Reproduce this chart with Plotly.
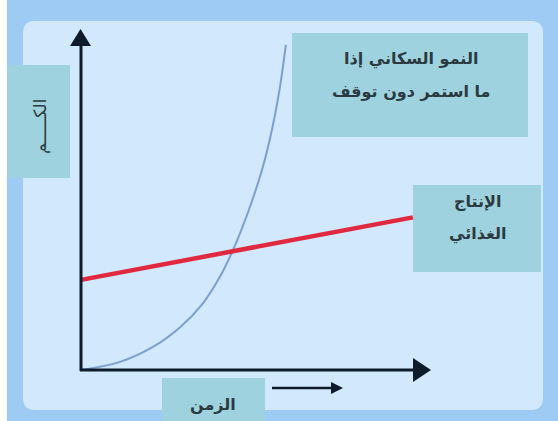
import plotly.graph_objects as go

# ---- data ----
time_pop = [0, 1.12, 2.06, 2.84, 3.50, 3.98, 4.33, 4.64, 4.93, 5.21, 5.47, 5.70, 5.87]
population = [0, 0.24, 0.68, 1.26, 1.97, 2.74, 3.47, 4.24, 5.06, 5.97, 7.06, 8.32, 9.56]
time_food = [0, 9.51]
food = [2.65, 4.49]

label_pop = ["النمو السكاني إذا", "ما استمر دون توقف"]
label_food = ["الإنتاج", "الغذائي"]
label_x = "الزمن"
label_y = "الكـــــم"

W, H = 558, 421
FONT = "DejaVu Sans"
TXT = "#2b3a40"
TEAL = "#9dd2de"


def px(x):
    return x / W


def py(y):
    return 1 - y / H


def rect(x0, y0, x1, y1, color):
    return dict(type="rect", xref="paper", yref="paper",
                x0=px(x0), x1=px(x1), y0=py(y1), y1=py(y0),
                fillcolor=color, line=dict(width=0), layer="below")


def rounded(x0, y0, x1, y1, r, color):
    pts = (
        f"M {px(x0 + r)},{py(y0)} L {px(x1 - r)},{py(y0)} "
        f"Q {px(x1)},{py(y0)} {px(x1)},{py(y0 + r)} "
        f"L {px(x1)},{py(y1 - r)} Q {px(x1)},{py(y1)} {px(x1 - r)},{py(y1)} "
        f"L {px(x0 + r)},{py(y1)} Q {px(x0)},{py(y1)} {px(x0)},{py(y1 - r)} "
        f"L {px(x0)},{py(y0 + r)} Q {px(x0)},{py(y0)} {px(x0 + r)},{py(y0)} Z"
    )
    return dict(type="path", xref="paper", yref="paper", path=pts,
                fillcolor=color, line=dict(width=0), layer="below")


def tri(pts, color="#0d1b2a"):
    p = "M " + " L ".join(f"{px(a)},{py(b)}" for a, b in pts) + " Z"
    return dict(type="path", xref="paper", yref="paper", path=p,
                fillcolor=color, line=dict(width=0, color=color), layer="above")


def seg(x0, y0, x1, y1, w=3, color="#0d1b2a"):
    return dict(type="line", xref="paper", yref="paper",
                x0=px(x0), y0=py(y0), x1=px(x1), y1=py(y1),
                line=dict(color=color, width=w), layer="above")


fig = go.Figure()

fig.add_trace(go.Scatter(
    x=time_pop, y=population, mode="lines", line_shape="spline",
    line=dict(color="#7b9fcf", width=2), hoverinfo="skip", showlegend=False))
fig.add_trace(go.Scatter(
    x=time_food, y=food, mode="lines",
    line=dict(color="#e0283f", width=4.5), hoverinfo="skip", showlegend=False))

shapes = [
    rect(0, 0, 7, H, "#ffffff"),
    rounded(23, 21, 543, 410, 12, "#d2e8fc"),
    rect(7, 65, 70, 178, TEAL),
    rect(292, 33, 528, 137, TEAL),
    rect(413, 185, 541, 272, TEAL),
    rect(162, 378, 265, H, TEAL),
    # axes with arrow heads
    seg(81, 371, 81, 42),
    tri([(70, 46), (91, 46), (80.5, 29)]),
    seg(80, 370, 416, 370),
    tri([(413, 358), (413, 382), (431, 370)]),
    # small arrow under the time axis
    seg(272, 388, 333, 388, w=2.5),
    tri([(331, 382), (331, 394), (343, 388)]),
]

ann = []


def text(x, y, s, size=16, angle=0, bold=True):
    ann.append(dict(xref="paper", yref="paper", x=px(x), y=py(y),
                    text=("<b>" + s + "</b>") if bold else s,
                    showarrow=False, xanchor="center", yanchor="middle",
                    textangle=angle,
                    font=dict(family=FONT, size=size, color=TXT)))


text(411, 59, label_pop[0])
text(411, 91, label_pop[1])
text(477, 201, label_food[0])
text(477, 234, label_food[1])
text(213, 404, label_x)
text(40, 126, label_y, size=17, angle=-90, bold=False)

fig.update_layout(
    width=W, height=H,
    margin=dict(l=0, r=0, t=0, b=0),
    paper_bgcolor="#9ecbf4",
    plot_bgcolor="rgba(0,0,0,0)",
    xaxis=dict(range=[-81 / 34.9, (W - 81) / 34.9], visible=False, fixedrange=True),
    yaxis=dict(range=[(370 - H) / 34.0, 370 / 34.0], visible=False, fixedrange=True),
    shapes=shapes,
    annotations=ann,
    showlegend=False,
)

fig.write_html(
    "out.html",
    config={"displayModeBar": False},
    post_script="document.body.style.margin='0';document.body.style.overflow='hidden';",
)
